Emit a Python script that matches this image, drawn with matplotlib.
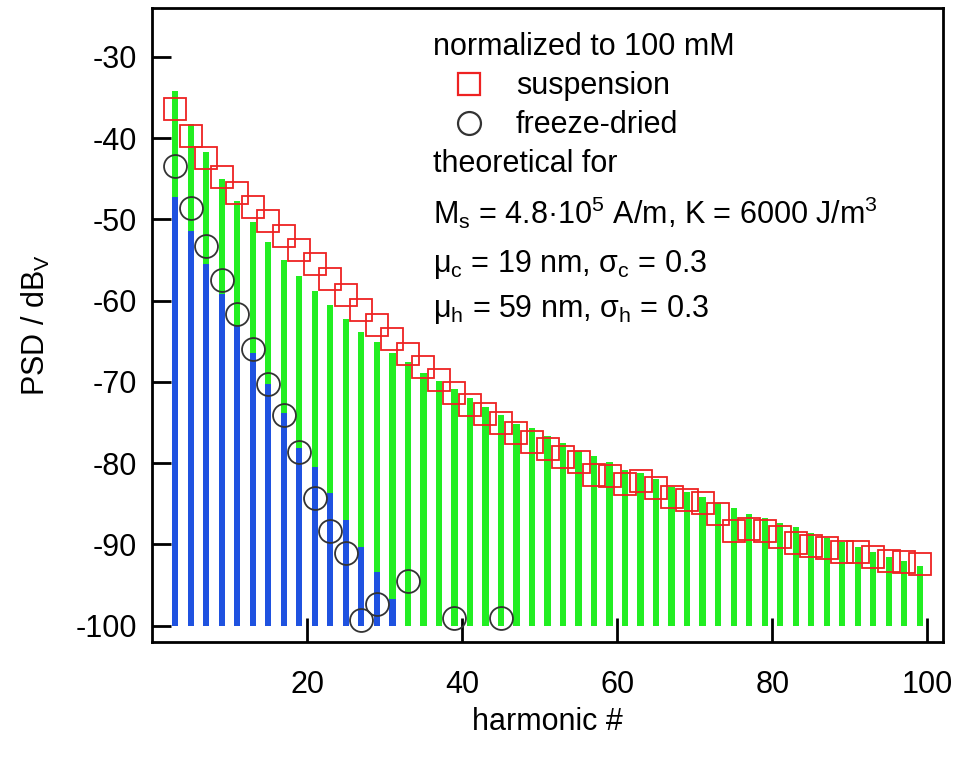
import matplotlib
matplotlib.use("Agg")
import matplotlib.pyplot as plt
import numpy as np

plt.rcParams['font.family'] = ['Liberation Sans', 'DejaVu Sans']
plt.rcParams['mathtext.fontset'] = 'custom'
plt.rcParams['mathtext.rm'] = 'Liberation Sans'
plt.rcParams['mathtext.it'] = 'Liberation Sans:italic'
plt.rcParams['axes.unicode_minus'] = False

# theoretical spectrum (green), suspension
harm_green = list(range(3, 100, 2))
psd_green = [-34.2, -38.3, -41.7, -45.0, -47.8, -50.3, -52.8, -55.0, -57.0, -58.8,
             -60.6, -62.3, -63.8, -65.1, -66.4, -67.6, -68.9, -69.9, -70.9, -72.0,
             -73.1, -74.1, -75.2, -75.7, -76.7, -77.5, -78.5, -79.1, -79.8, -80.8,
             -81.2, -82.0, -82.9, -83.5, -84.1, -84.9, -85.5, -86.2, -86.7, -87.4,
             -87.9, -88.6, -89.2, -89.7, -90.3, -90.9, -91.5, -92.0, -92.6]

# theoretical spectrum (blue), freeze-dried
harm_blue = list(range(3, 32, 2))
psd_blue = [-47.2, -51.4, -55.5, -59.2, -63.0, -66.5, -70.3, -73.8, -78.1, -80.5,
            -83.7, -87.0, -90.3, -93.4, -96.7]

# measured: suspension (red squares)
harm_susp = list(range(3, 100, 2))
psd_susp = [-36.4, -39.7, -42.5, -44.8, -46.7, -48.5, -50.2, -52.0, -53.8, -55.5,
            -57.4, -59.3, -61.1, -63.0, -64.7, -66.6, -68.2, -69.8, -71.4, -72.8,
            -74.0, -75.0, -76.3, -77.4, -78.3, -79.2, -79.8, -81.5, -81.6, -82.6,
            -82.2, -83.1, -84.1, -84.5, -84.9, -86.2, -88.3, -88.1, -88.3, -89.1,
            -89.8, -90.2, -90.4, -90.9, -90.9, -91.5, -92.0, -92.2, -92.4]

# measured: freeze-dried (black circles)
harm_fd = [3, 5, 7, 9, 11, 13, 15, 17, 19, 21, 23, 25, 27, 29, 33, 39, 45]
psd_fd = [-43.5, -48.6, -53.3, -57.5, -61.7, -66.0, -70.3, -74.1, -78.6, -84.3,
          -88.4, -91.1, -99.3, -97.3, -94.5, -99.1, -99.1]

base = -100
FS = 22
MS = 16.5

fig = plt.figure(figsize=(9.62, 7.65), dpi=100)
ax = fig.add_axes([152/962, 1-642/765, (943-152)/962, (642-8)/765])

ax.bar(harm_green, np.array(psd_green) - base, bottom=base, width=0.8,
       color='#22ee22', linewidth=0, zorder=2)
ax.bar(harm_blue, np.array(psd_blue) - base, bottom=base, width=0.8,
       color='#1f52e0', linewidth=0, zorder=3)
ax.plot(harm_susp, psd_susp, linestyle='none', marker='s', markersize=MS,
        markerfacecolor='none', markeredgecolor='#ee2222', markeredgewidth=1.3, zorder=4)
ax.plot(harm_fd, psd_fd, linestyle='none', marker='o', markersize=MS,
        markerfacecolor='none', markeredgecolor='#333333', markeredgewidth=1.3, zorder=5)

ax.set_xlim(0, 102)
ax.set_ylim(-102, -24)
ax.set_xticks([20, 40, 60, 80, 100])
ax.set_yticks(list(range(-100, -29, 10)))
ax.tick_params(axis='x', direction='in', length=17, width=2, pad=20, labelsize=FS)
ax.tick_params(axis='y', direction='in', length=14, width=2, pad=11, labelsize=FS)
for s in ax.spines.values():
    s.set_linewidth(2)

ax.set_xlabel('harmonic #', fontsize=FS, labelpad=5)
ax.set_ylabel(r'PSD / dB$_\mathrm{V}$', fontsize=FS, labelpad=17)

# legend / annotation block
T = ax.transAxes
ax.text(0.355, 0.926, 'normalized to 100 mM', transform=T, fontsize=FS, va='baseline')
ax.plot([0.401], [0.880], transform=T, marker='s', markersize=MS, markerfacecolor='none',
        markeredgecolor='#ee2222', markeredgewidth=1.6, linestyle='none', clip_on=False)
ax.text(0.460, 0.8644, 'suspension', transform=T, fontsize=FS, va='baseline')
ax.plot([0.401], [0.8186], transform=T, marker='o', markersize=MS, markerfacecolor='none',
        markeredgecolor='#333333', markeredgewidth=1.6, linestyle='none', clip_on=False)
ax.text(0.460, 0.8028, 'freeze-dried', transform=T, fontsize=FS, va='baseline')
ax.text(0.355, 0.7413, 'theoretical for', transform=T, fontsize=FS, va='baseline')
ax.text(0.355, 0.6593, r'M$_\mathrm{s}$ = 4.8·10$^\mathrm{5}$ A/m, K = 6000 J/m$^\mathrm{3}$',
        transform=T, fontsize=FS, va='baseline')
ax.text(0.355, 0.5836, r'μ$_\mathrm{c}$ = 19 nm, σ$_\mathrm{c}$ = 0.3',
        transform=T, fontsize=FS, va='baseline')
ax.text(0.355, 0.5126, r'μ$_\mathrm{h}$ = 59 nm, σ$_\mathrm{h}$ = 0.3',
        transform=T, fontsize=FS, va='baseline')

fig.savefig('out.png', dpi=100)
